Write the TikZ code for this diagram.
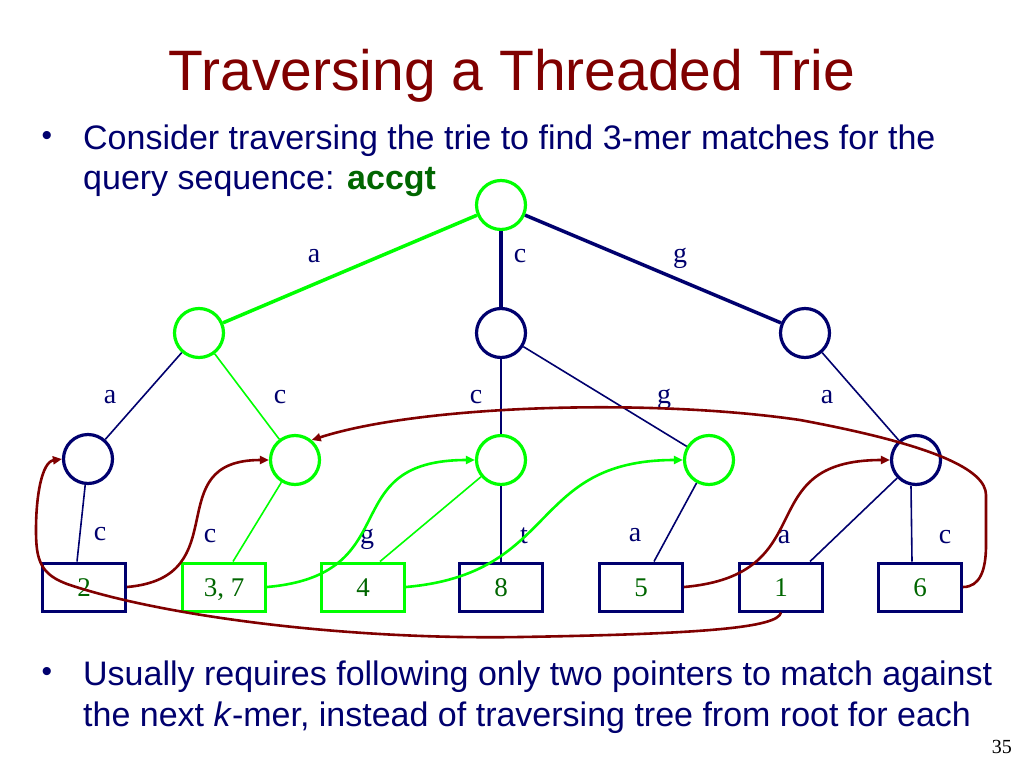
\documentclass[tikz,border=0pt]{standalone}
\usepackage{fontspec}
\setmainfont{Liberation Serif}
\newfontfamily\arialf{Liberation Sans}
\usetikzlibrary{arrows.meta}
\definecolor{navy}{RGB}{0,0,110}
\definecolor{brgreen}{RGB}{0,255,0}
\definecolor{dkgreen}{RGB}{0,102,0}
\definecolor{dkred}{RGB}{128,0,0}
\begin{document}
\begin{tikzpicture}[x=1pt,y=-1pt,
  circ/.style={circle,draw=#1,line width=3.2pt,minimum size=49pt,inner sep=0pt},
  box/.style={rectangle,draw=#1,line width=3pt,minimum width=83pt,minimum height=48pt,inner sep=0pt,text height=18pt,text depth=0pt,text=dkgreen,font=\fontsize{27}{30}\selectfont},
  thickedge/.style={line width=3.5pt},
  thinedge/.style={line width=1.6pt},
  lbl/.style={text=navy,font=\fontsize{28}{30}\selectfont,anchor=base,inner sep=0pt},
  ptr/.style={draw=#1,line width=2.6pt,-{Triangle[length=9pt,width=8pt]}},
  txt/.style={anchor=base west,inner sep=0pt,text=navy,font=\arialf\fontsize{34}{40}\selectfont},
  bul/.style={anchor=center,inner sep=0pt,text=navy,font=\arialf\fontsize{30}{34}\selectfont}]
\useasboundingbox (0,0) rectangle (1024,768);
\fill[white] (0,0) rectangle (1024,768);
% title and text
\node[anchor=base,inner sep=0pt,text=dkred,font=\arialf\fontsize{57}{68}\selectfont] (title) at (512,90) {Traversing a Threaded Trie};
\node[bul] (b1) at (47,138) {•};
\node[txt] (t1a) at (83,149) {Consider traversing the trie to find 3-mer matches for the};
\node[txt] (t1b) at (83,189) {query sequence: \textcolor{dkgreen}{\bfseries accgt}};
\node[bul] (b2) at (47,674) {•};
\node[txt] (t2a) at (83,685) {Usually requires following only two pointers to match against};
\node[txt] (t2b) at (83,726) {the next \textit{k}-mer, instead of traversing tree from root for each};
\node[anchor=base east,inner sep=0pt,font=\fontsize{20}{22}\selectfont] (pg) at (1012,753) {35};
% circles
\node[circ=brgreen] (root) at (501,205) {};
\node[circ=brgreen] (A) at (199,333) {};
\node[circ=navy] (C) at (501,333) {};
\node[circ=navy] (G) at (805,333) {};
\node[circ=navy] (AA) at (88,459) {};
\node[circ=brgreen] (AC) at (295,460) {};
\node[circ=brgreen] (CC) at (501,460) {};
\node[circ=brgreen] (CG) at (709,460) {};
\node[circ=navy] (GA) at (916,460) {};
% boxes
\node[box=navy] (b2x) at (84,587) {2};
\node[box=brgreen] (b37) at (224,587) {3, 7};
\node[box=brgreen] (b4) at (363,587) {4};
\node[box=navy] (b8) at (501,587) {8};
\node[box=navy] (b5) at (641,587) {5};
\node[box=navy] (b1x) at (781,587) {1};
\node[box=navy] (b6) at (920,587) {6};
% edges
\draw[thickedge,brgreen] (root) -- (A);
\draw[thickedge,navy] (root) -- (C);
\draw[thickedge,navy] (root) -- (G);
\draw[thinedge,navy] (A) -- (AA);
\draw[thinedge,brgreen] (A) -- (AC);
\draw[thinedge,navy] (C) -- (CC);
\draw[thinedge,navy] (C) -- (CG);
\draw[thinedge,navy] (G) -- (GA);
\draw[thinedge,navy] (AA) -- ([xshift=-7pt]b2x.north);
\draw[thinedge,brgreen] (AC) -- ([xshift=9pt]b37.north);
\draw[thinedge,brgreen] (CC) -- ([xshift=17pt]b4.north);
\draw[thinedge,navy] (CC) -- (b8);
\draw[thinedge,navy] (CG) -- ([xshift=13pt]b5.north);
\draw[thinedge,navy] (GA) -- ([xshift=29pt]b1x.north);
\draw[thinedge,navy] ([xshift=-5pt]GA.south) -- ([xshift=-8pt]b6.north);
% edge labels
\node[lbl] (l1) at (314,262) {a};
\node[lbl] (l2) at (520,262) {c};
\node[lbl] (l3) at (680,262) {g};
\node[lbl] (l4) at (110,403) {a};
\node[lbl] (l5) at (280,403) {c};
\node[lbl] (l6) at (476,403) {c};
\node[lbl] (l7) at (664,403) {g};
\node[lbl] (l8) at (827,403) {a};
\node[lbl] (l9) at (100,540) {c};
\node[lbl] (l10) at (210,542) {c};
\node[lbl] (l11) at (367,543) {g};
\node[lbl] (l12) at (524,543) {t};
\node[lbl] (l13) at (635,541) {a};
\node[lbl] (l14) at (784,543) {a};
\node[lbl] (l15) at (945,543) {c};
% thread pointers
\draw[ptr=brgreen] (b37.east) to[out=5,in=180,looseness=1.5] (CC.west);
\draw[ptr=brgreen] (b4.east) to[out=5,in=180,looseness=1.3] (CG.west);
\draw[ptr=dkred] (b2x.east) to[out=5,in=180,looseness=1.5] (AC.west);
\draw[ptr=dkred] (b5.east) to[out=5,in=180,looseness=1.5] (GA.west);
\draw[ptr=dkred] (b6.east) .. controls (980,587) and (986,570) .. (986,545) -- (986,495)
  .. controls (986,470) and (935,445) .. (800,420)
  .. controls (650,398) and (420,405) .. (AC.50);
\draw[ptr=dkred] (b1x.south) .. controls (778,628) and (700,634) .. (520,637)
  .. controls (340,640) and (160,615) .. (70,585)
  .. controls (40,575) and (36,560) .. (36,530)
  .. controls (36,495) and (42,462) .. (AA.west);
\end{tikzpicture}
\end{document}
